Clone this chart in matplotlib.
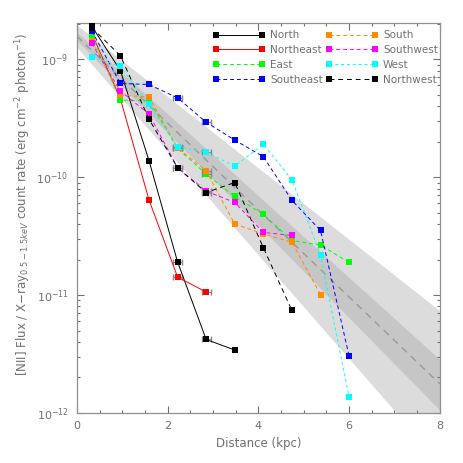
import numpy as np
import matplotlib
matplotlib.use("Agg")
import matplotlib.pyplot as plt
from matplotlib.ticker import MultipleLocator, LogLocator, NullFormatter

# distance bins (kpc) and their half widths
dist = [0.33, 0.96, 1.59, 2.22, 2.85, 3.48, 4.11, 4.74, 5.37, 6.00]
dist_err = [0, 0, 0, 0.1, 0.1, 0, 0, 0, 0, 0]

# flux ratio per direction, starting at the innermost bin
north = [1.9e-9, 8.0e-10, 1.38e-10, 1.91e-11, 4.2e-12, 3.42e-12]
northeast = [1.65e-9, 4.6e-10, 6.4e-11, 1.42e-11, 1.06e-11]
east = [1.6e-9, 4.5e-10, 4.45e-10, 1.75e-10, 1.06e-10, 6.85e-11, 4.83e-11, 2.9e-11, 2.65e-11, 1.89e-11]
southeast = [1.73e-9, 6.22e-10, 6.1e-10, 4.7e-10, 2.92e-10, 2.06e-10, 1.49e-10, 6.35e-11, 3.53e-11, 3.04e-12]
south = [1.43e-9, 4.96e-10, 4.76e-10, 1.77e-10, 1.13e-10, 4.0e-11, 3.3e-11, 2.8e-11, 1.01e-11]
southwest = [1.36e-9, 5.36e-10, 3.42e-10, 1.2e-10, 7.6e-11, 6.1e-11, 3.4e-11, 3.2e-11]
west = [1.05e-9, 8.67e-10, 4.13e-10, 1.81e-10, 1.62e-10, 1.24e-10, 1.9e-10, 9.5e-11, 2.18e-11, 1.36e-12]
northwest = [1.85e-9, 1.07e-9, 3.1e-10, 1.2e-10, 7.4e-11, 9.0e-11, 2.52e-11, 7.4e-12]

# exponential fit: log10(y) = a + b*x, with inner and outer bands
fit_a, fit_b = -8.805, -0.3685
inner_hi = (-8.77, -0.347)
inner_lo = (-8.84, -0.392)
outer_hi = (-8.71, -0.303)
outer_lo = (-8.90, -0.440)

series = [
    ("North", north, "black", "-"),
    ("Northeast", northeast, "red", "-"),
    ("East", east, "#00ff00", (0, (4, 3))),
    ("Southeast", southeast, "blue", (0, (4, 3))),
    ("South", south, "#ff8c00", (0, (4, 3))),
    ("Southwest", southwest, "magenta", (0, (4, 3))),
    ("West", west, "cyan", (0, (3, 3))),
    ("Northwest", northwest, "black", (0, (5, 4))),
]

grey = "#707070"
plt.rcParams["font.family"] = "DejaVu Sans"
plt.rcParams["mathtext.fontset"] = "dejavusans"

fig = plt.figure(figsize=(4.63, 4.63), dpi=100)
ax = fig.add_axes([0.166, 0.108, 0.784, 0.842])

xx = np.linspace(0, 8, 200)
ax.fill_between(xx, 10 ** (outer_lo[0] + outer_lo[1] * xx), 10 ** (outer_hi[0] + outer_hi[1] * xx),
                color="#dcdcdc", lw=0, zorder=0)
ax.fill_between(xx, 10 ** (inner_lo[0] + inner_lo[1] * xx), 10 ** (inner_hi[0] + inner_hi[1] * xx),
                color="#c6c6c6", lw=0, zorder=0)
ax.plot(xx, 10 ** (fit_a + fit_b * xx), color="#999999", ls=(0, (5, 4)), lw=1.0, zorder=1)

for name, vals, col, ls in series:
    n = len(vals)
    xs = dist[:n]
    # small distance error bars only where they are non zero
    ex = [x for x, e in zip(xs, dist_err) if e > 0]
    ey = [v for v, e in zip(vals, dist_err) if e > 0]
    ee = [e for e in dist_err[:n] if e > 0]
    if ex:
        ax.errorbar(ex, ey, xerr=ee, fmt="none", ecolor="#888888", elinewidth=0.8,
                    capsize=2.5, zorder=2)
    ax.plot(xs, vals, color=col, ls=ls, lw=0.7, marker="s", markersize=5,
            markeredgewidth=0, label=name, zorder=3)

ax.set_yscale("log")
ax.set_xlim(0, 8)
ax.set_ylim(1e-12, 2.02e-9)
ax.xaxis.set_major_locator(MultipleLocator(2))
ax.xaxis.set_minor_locator(MultipleLocator(0.5))
ax.yaxis.set_major_locator(LogLocator(base=10, numticks=10))
ax.yaxis.set_minor_locator(LogLocator(base=10, subs=np.arange(2, 10), numticks=10))
ax.yaxis.set_minor_formatter(NullFormatter())
ax.xaxis.set_minor_formatter(NullFormatter())

ax.tick_params(which="both", direction="in", top=True, right=True, colors=grey,
               labelcolor=grey, labelsize=8, width=0.8)
ax.tick_params(which="major", length=5, pad=6)
ax.tick_params(which="minor", length=2.5)
for sp in ax.spines.values():
    sp.set_color("#909090")
    sp.set_linewidth(0.9)

ax.set_xlabel("Distance (kpc)", color=grey, fontsize=8.5, labelpad=4)
ax.set_ylabel(r"[NII] Flux / X$-$ray$_{0.5-1.5keV}$ count rate (erg cm$^{-2}$ photon$^{-1}$)",
              color=grey, fontsize=8.5)
ax.yaxis.set_label_coords(-0.122, 0.535)

leg = ax.legend(ncol=2, loc="upper right", bbox_to_anchor=(1.015, 1.0), frameon=False,
                numpoints=2, handlelength=5.0, fontsize=7.5, labelspacing=0.45,
                columnspacing=0.3, handletextpad=0.5, borderaxespad=0.3)
for t in leg.get_texts():
    t.set_color(grey)

fig.savefig("out.png", dpi=100)
